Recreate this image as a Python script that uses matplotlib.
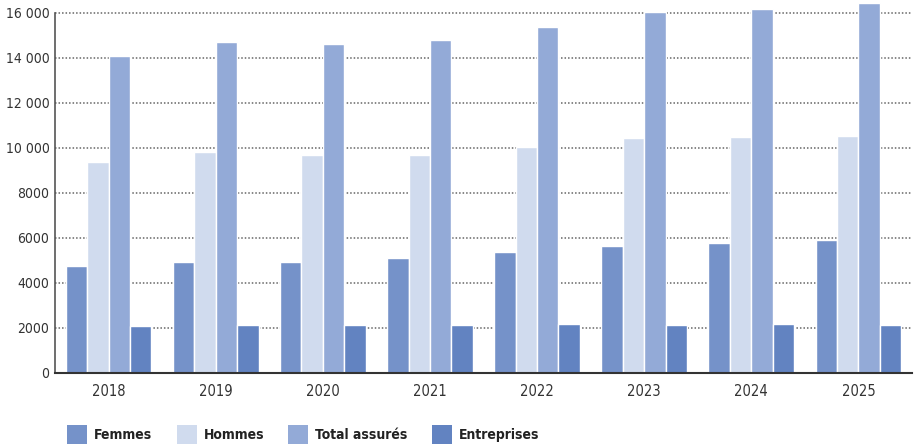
import matplotlib
matplotlib.use("Agg")
import matplotlib.pyplot as plt
import numpy as np
from matplotlib.patches import Rectangle

years = ["2018", "2019", "2020", "2021", "2022", "2023", "2024", "2025"]
series_names = ["Femmes", "Hommes", "Total assurés", "Entreprises"]
femmes = [4740, 4920, 4920, 5100, 5365, 5630, 5765, 5900]
hommes = [9365, 9810, 9675, 9675, 10030, 10430, 10475, 10520]
total = [14080, 14700, 14610, 14790, 15365, 16030, 16165, 16430]
entreprises = [2075, 2120, 2120, 2120, 2165, 2120, 2165, 2120]
yticks = [0, 2000, 4000, 6000, 8000, 10000, 12000, 14000, 16000]
ytick_labels = ["0", "2000", "4000", "6000", "8000", "10 000", "12 000", "14 000", "16 000"]

colors = ["#7592C9", "#D0DBEE", "#93AAD7", "#6283C1"]
fam = ["DejaVu Sans"]
plt.rcParams['font.family'] = fam
plt.rcParams['font.stretch'] = 'condensed'

W, H = 919, 444
fig = plt.figure(figsize=(W/100, H/100), dpi=100)
x0, x1 = 55, 912
ybot, ytop = 372.7, 2.0
ax = fig.add_axes([x0/W, (H-ybot)/H, (x1-x0)/W, (ybot-ytop)/H])
ppk = 22.5  # px per 1000
ax.set_ylim(0, (ybot-ytop)/ppk*1000)
ax.set_xlim(-0.5, len(years)-0.5)

ax.set_axisbelow(True)
ax.yaxis.grid(True, linestyle=(0, (1.0, 1.3)), color="#666666", linewidth=1.1)
ax.xaxis.grid(False)

data = [femmes, hommes, total, entreprises]
x = np.arange(len(years))
offs = [-0.3, -0.1, 0.1, 0.3]
for d, c, o in zip(data, colors, offs):
    ax.bar(x + o, d, width=0.2, color=c, edgecolor="white", linewidth=1.0, zorder=3)

for s in ["top", "right"]:
    ax.spines[s].set_visible(False)
ax.spines['left'].set_bounds(0, 16000)
ax.spines['left'].set_color("#555555")
ax.spines['left'].set_linewidth(1.2)
ax.spines['bottom'].set_color("#333333")
ax.spines['bottom'].set_linewidth(1.5)
ax.spines['bottom'].set_zorder(4)

ax.set_yticks(yticks)
ax.set_yticklabels(ytick_labels)
ax.set_xticks(x)
ax.set_xticklabels(years)
ax.tick_params(axis='y', length=0, pad=4, labelsize=10, labelcolor="#333333")
ax.tick_params(axis='x', length=0, pad=8, labelsize=10.5, labelcolor="#333333")

# legend
lx = [67, 177, 288, 432]
for name, c, px in zip(series_names, colors, lx):
    fig.add_artist(Rectangle((px/W, (H-444)/H), 20/W, 19/H, transform=fig.transFigure,
                             facecolor=c, edgecolor="none"))
    fig.text((px+27)/W, (H-435)/H, name, fontsize=10, fontweight="bold",
             color="#222222", va="center", ha="left")

fig.savefig("out.png", dpi=100)
